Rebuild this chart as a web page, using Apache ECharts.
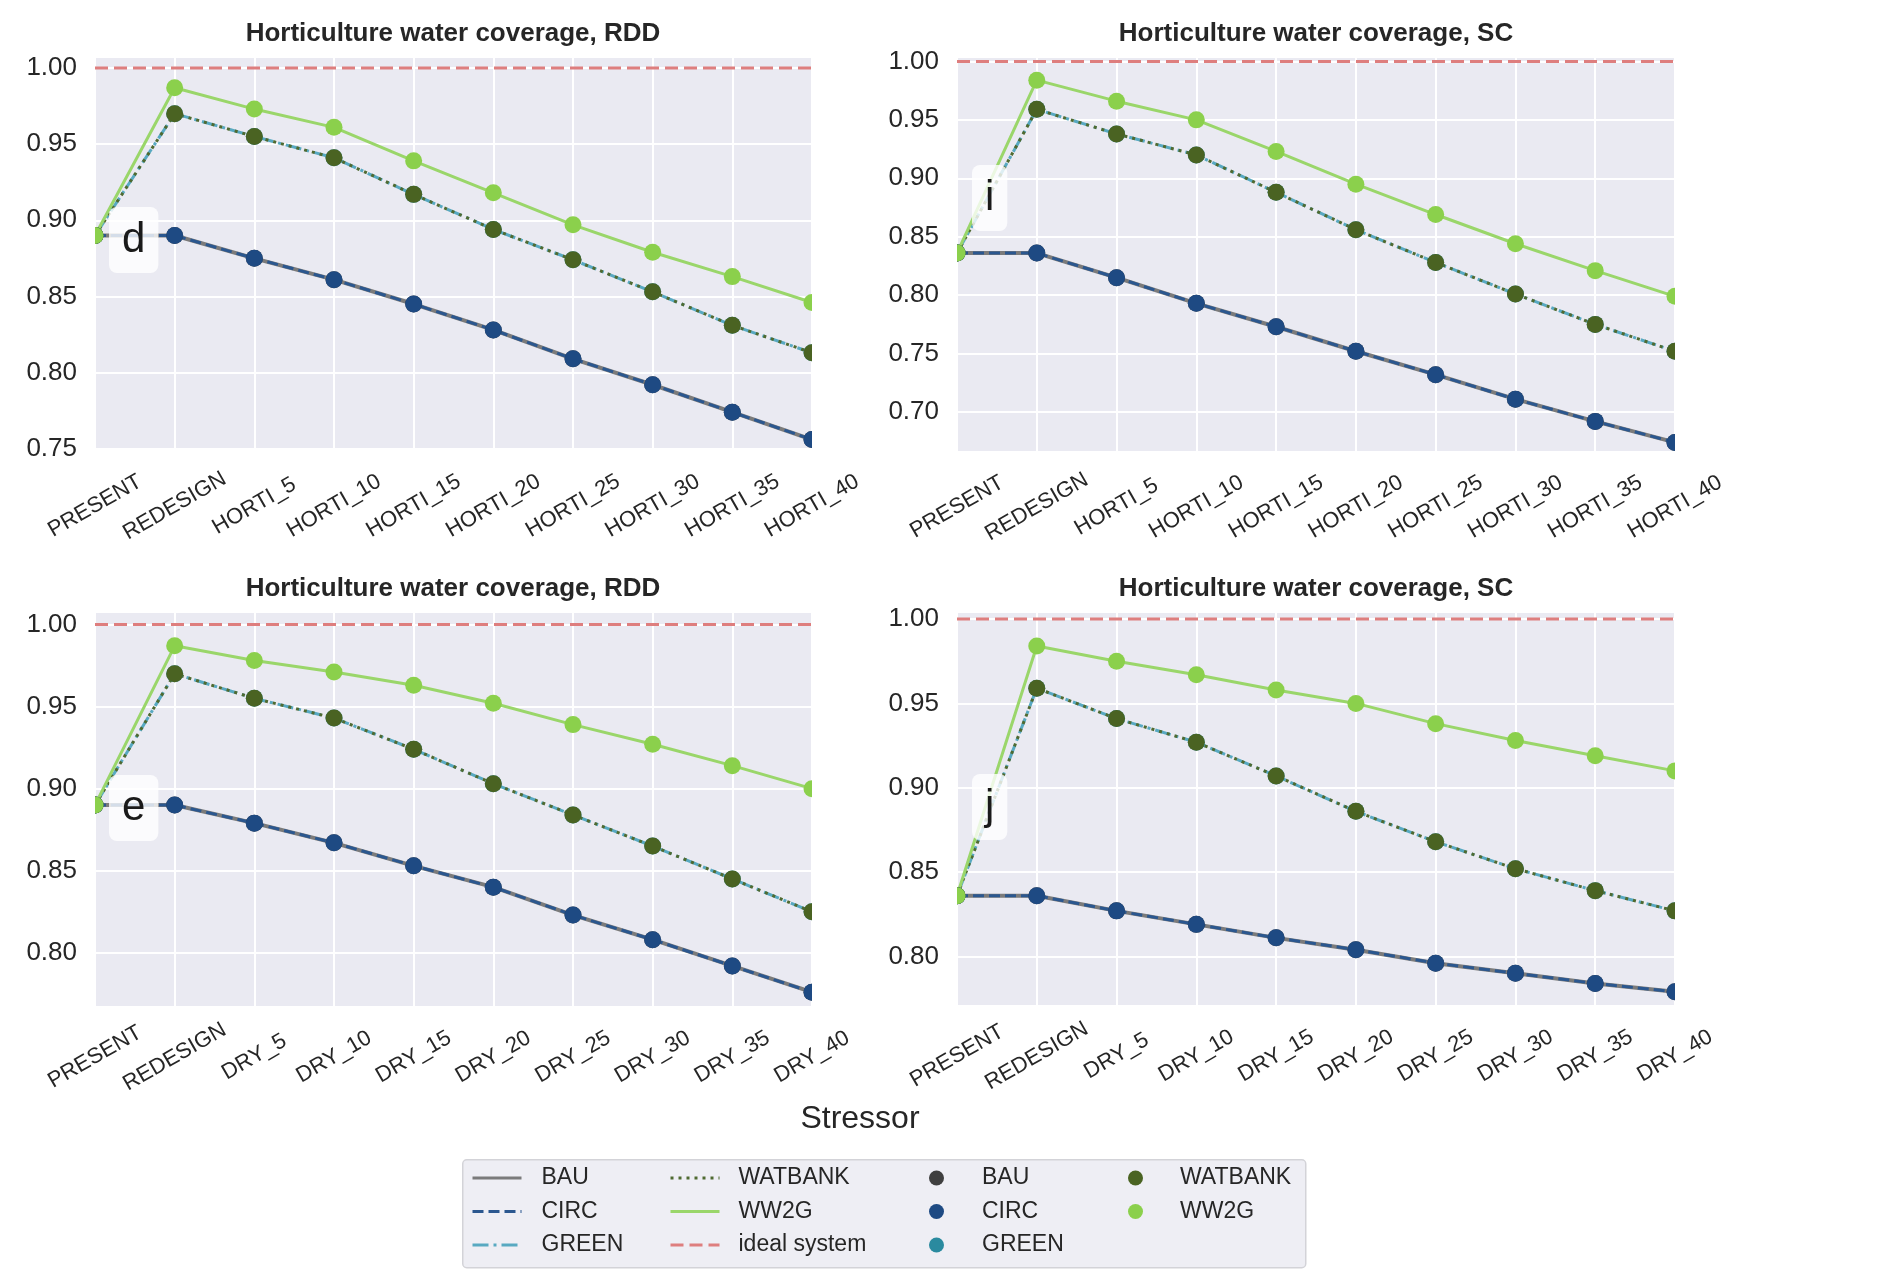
<!DOCTYPE html>
<html>
<head>
<meta charset="utf-8">
<script src="https://cdn.jsdelivr.net/npm/echarts@6/dist/echarts.min.js"></script>
<style>
  html, body { margin: 0; padding: 0; background: #ffffff; }
  #chart { width: 1879px; height: 1286px; }
</style>
</head>
<body>
<div id="chart"></div>
<script>
// ---- categories ----
const hortiCategories = ['PRESENT', 'REDESIGN', 'HORTI_5', 'HORTI_10', 'HORTI_15', 'HORTI_20', 'HORTI_25', 'HORTI_30', 'HORTI_35', 'HORTI_40'];
const dryCategories = ['PRESENT', 'REDESIGN', 'DRY_5', 'DRY_10', 'DRY_15', 'DRY_20', 'DRY_25', 'DRY_30', 'DRY_35', 'DRY_40'];

// ---- ideal system reference ----
const idealValues = [1, 1, 1, 1, 1, 1, 1, 1, 1, 1];

// ---- panel d: RDD, horticulture stressor ----
const rddHortiBAU     = [0.890, 0.890, 0.875, 0.861, 0.845, 0.828, 0.809, 0.792, 0.774, 0.756];
const rddHortiCIRC    = [0.890, 0.890, 0.875, 0.861, 0.845, 0.828, 0.809, 0.792, 0.774, 0.756];
const rddHortiGREEN   = [0.890, 0.970, 0.955, 0.941, 0.917, 0.894, 0.874, 0.853, 0.831, 0.813];
const rddHortiWATBANK = [0.890, 0.970, 0.955, 0.941, 0.917, 0.894, 0.874, 0.853, 0.831, 0.813];
const rddHortiWW2G    = [0.890, 0.987, 0.973, 0.961, 0.939, 0.918, 0.897, 0.879, 0.863, 0.846];

// ---- panel i: SC, horticulture stressor ----
const scHortiBAU     = [0.836, 0.836, 0.815, 0.793, 0.773, 0.752, 0.732, 0.711, 0.692, 0.674];
const scHortiCIRC    = [0.836, 0.836, 0.815, 0.793, 0.773, 0.752, 0.732, 0.711, 0.692, 0.674];
const scHortiGREEN   = [0.836, 0.959, 0.938, 0.920, 0.888, 0.856, 0.828, 0.801, 0.775, 0.752];
const scHortiWATBANK = [0.836, 0.959, 0.938, 0.920, 0.888, 0.856, 0.828, 0.801, 0.775, 0.752];
const scHortiWW2G    = [0.836, 0.984, 0.966, 0.950, 0.923, 0.895, 0.869, 0.844, 0.821, 0.799];

// ---- panel e: RDD, drought stressor ----
const rddDryBAU     = [0.890, 0.890, 0.879, 0.867, 0.853, 0.840, 0.823, 0.808, 0.792, 0.776];
const rddDryCIRC    = [0.890, 0.890, 0.879, 0.867, 0.853, 0.840, 0.823, 0.808, 0.792, 0.776];
const rddDryGREEN   = [0.890, 0.970, 0.955, 0.943, 0.924, 0.903, 0.884, 0.865, 0.845, 0.825];
const rddDryWATBANK = [0.890, 0.970, 0.955, 0.943, 0.924, 0.903, 0.884, 0.865, 0.845, 0.825];
const rddDryWW2G    = [0.890, 0.987, 0.978, 0.971, 0.963, 0.952, 0.939, 0.927, 0.914, 0.900];

// ---- panel j: SC, drought stressor ----
const scDryBAU     = [0.836, 0.836, 0.827, 0.819, 0.811, 0.804, 0.796, 0.790, 0.784, 0.779];
const scDryCIRC    = [0.836, 0.836, 0.827, 0.819, 0.811, 0.804, 0.796, 0.790, 0.784, 0.779];
const scDryGREEN   = [0.836, 0.959, 0.941, 0.927, 0.907, 0.886, 0.868, 0.852, 0.839, 0.827];
const scDryWATBANK = [0.836, 0.959, 0.941, 0.927, 0.907, 0.886, 0.868, 0.852, 0.839, 0.827];
const scDryWW2G    = [0.836, 0.984, 0.975, 0.967, 0.958, 0.950, 0.938, 0.928, 0.919, 0.910];

const scenarioNames = ['BAU', 'CIRC', 'GREEN', 'WATBANK', 'WW2G'];
const panelTitles = ['Horticulture water coverage, RDD', 'Horticulture water coverage, SC',
                     'Horticulture water coverage, RDD', 'Horticulture water coverage, SC'];
const panelTags = ['d', 'i', 'e', 'j'];
const xLabelName = 'Stressor';

const panelData = [
  { cats: hortiCategories, series: [rddHortiBAU, rddHortiCIRC, rddHortiGREEN, rddHortiWATBANK, rddHortiWW2G] },
  { cats: hortiCategories, series: [scHortiBAU, scHortiCIRC, scHortiGREEN, scHortiWATBANK, scHortiWW2G] },
  { cats: dryCategories,   series: [rddDryBAU, rddDryCIRC, rddDryGREEN, rddDryWATBANK, rddDryWW2G] },
  { cats: dryCategories,   series: [scDryBAU, scDryCIRC, scDryGREEN, scDryWATBANK, scDryWW2G] }
];

// ---- layout (pixels) ----
const panelLayout = [
  { grid: { left: 95,  top: 57,  width: 717, height: 394 }, yMin: 0.7485, yMax: 1.0072, tag: { left: 109, top: 207 }, titleX: 453,  titleTop: 19,  labelMargin: 55 },
  { grid: { left: 957, top: 57,  width: 718, height: 395 }, yMin: 0.6658, yMax: 1.0038, tag: { left: 972, top: 165 }, titleX: 1316, titleTop: 19,  labelMargin: 55 },
  { grid: { left: 95,  top: 612, width: 717, height: 395 }, yMin: 0.7670, yMax: 1.0076, tag: { left: 109, top: 775 }, titleX: 453,  titleTop: 574, labelMargin: 50 },
  { grid: { left: 957, top: 612, width: 718, height: 394 }, yMin: 0.7706, yMax: 1.0042, tag: { left: 972, top: 774 }, titleX: 1316, titleTop: 574, labelMargin: 50 }
];

const FONT = "'Liberation Sans', Arial, Helvetica, sans-serif";
const TEXT = '#262626';
const PLOT_BG = '#eaeaf2';
const MARKER_SIZE = 17;

const lineStyles = {
  BAU:     { color: '#7b7b7b', width: 4, type: 'solid' },
  CIRC:    { color: '#2b578f', width: 3, type: [11, 5] },
  GREEN:   { color: '#58a9c1', width: 3, type: [16, 5, 3, 5] },
  WATBANK: { color: '#4f6a31', width: 3, type: [3, 5] },
  WW2G:    { color: '#9ad66a', width: 3, type: 'solid' }
};
const idealStyle = { color: '#de7e7e', width: 3, type: [13, 6] };
const markerColors = { BAU: '#3f3f3f', CIRC: '#1e4a83', GREEN: '#2a8a9f', WATBANK: '#4a6322', WW2G: '#8bd04c' };
const MARKER_SUFFIX = ' marker';

const grids = [], xAxes = [], yAxes = [], series = [], titles = [], masks = [];

panelLayout.forEach((lay, i) => {
  const pd = panelData[i];
  const g = lay.grid;
  grids.push(Object.assign({ show: true, backgroundColor: PLOT_BG, borderWidth: 0, containLabel: false, outerBoundsMode: 'none' }, g));
  xAxes.push({
    type: 'category', gridIndex: i, data: pd.cats, boundaryGap: false,
    axisLine: { show: false }, axisTick: { show: false },
    splitLine: { show: true, lineStyle: { color: '#ffffff', width: 2 } },
    axisLabel: {
      interval: 0, rotate: 30, align: 'center', verticalAlign: 'middle',
      margin: lay.labelMargin, fontSize: 22, color: TEXT, fontFamily: FONT, hideOverlap: false
    }
  });
  yAxes.push({
    type: 'value', gridIndex: i, min: lay.yMin, max: lay.yMax,
    minInterval: 0.05, maxInterval: 0.05,
    axisLine: { show: false }, axisTick: { show: false },
    splitLine: { show: true, lineStyle: { color: '#ffffff', width: 2 } },
    axisLabel: {
      margin: 18, fontSize: 26, color: TEXT, fontFamily: FONT,
      formatter: v => (Math.abs(v * 20 - Math.round(v * 20)) < 1e-6 ? v.toFixed(2) : '')
    }
  });

  // ideal system reference line
  series.push({
    type: 'line', name: 'ideal system', xAxisIndex: i, yAxisIndex: i,
    data: idealValues, symbol: 'none', lineStyle: idealStyle, itemStyle: { color: idealStyle.color },
    animation: false, z: 2, silent: true
  });
  // scenario lines
  scenarioNames.forEach((nm, k) => {
    series.push({
      type: 'line', name: nm, xAxisIndex: i, yAxisIndex: i,
      data: pd.series[k], symbol: 'none',
      lineStyle: lineStyles[nm], itemStyle: { color: lineStyles[nm].color },
      animation: false, z: 2, silent: true
    });
  });
  // scenario markers
  scenarioNames.forEach((nm, k) => {
    series.push({
      type: 'scatter', name: nm + MARKER_SUFFIX, xAxisIndex: i, yAxisIndex: i,
      data: pd.series[k], symbol: 'circle', symbolSize: MARKER_SIZE,
      itemStyle: { color: markerColors[nm], opacity: 1 },
      animation: false, z: 3, silent: true
    });
  });

  // white strips beside each plot so markers are cut at the plot edge
  const strip = Math.ceil(MARKER_SIZE / 2) + 2;
  masks.push({ type: 'rect', z: 20, silent: true, shape: { x: g.left - strip, y: g.top, width: strip, height: g.height }, style: { fill: '#ffffff' } });
  masks.push({ type: 'rect', z: 20, silent: true, shape: { x: g.left + g.width, y: g.top, width: strip, height: g.height }, style: { fill: '#ffffff' } });

  titles.push({
    text: panelTitles[i], left: lay.titleX, top: lay.titleTop, textAlign: 'center', padding: 0,
    textStyle: { fontSize: 26, fontWeight: 'bold', color: TEXT, fontFamily: FONT, lineHeight: 30 }
  });
  titles.push({
    text: panelTags[i], left: lay.tag.left, top: lay.tag.top, padding: [12, 13],
    backgroundColor: 'rgba(255,255,255,0.8)', borderRadius: 8,
    textStyle: { fontSize: 42, fontWeight: 'normal', color: '#1a1a1a', fontFamily: FONT, lineHeight: 42 }
  });
});

titles.push({
  text: xLabelName, left: 860, top: 1101, textAlign: 'center', padding: 0,
  textStyle: { fontSize: 32, fontWeight: 'normal', color: TEXT, fontFamily: FONT, lineHeight: 36 }
});

const legendText = pad => ({ fontSize: 23, lineHeight: 28, color: TEXT, fontFamily: FONT, padding: [0, 0, 0, pad] });
const legendCommon = { orient: 'vertical', padding: 0, itemGap: 5.5, selectedMode: false, top: 1164 };

const legends = [
  Object.assign({}, legendCommon, {
    data: ['BAU', 'CIRC', 'GREEN'], left: 471, itemWidth: 49, itemHeight: 14,
    lineStyle: { width: 3 }, itemStyle: { opacity: 0 }, textStyle: legendText(15)
  }),
  Object.assign({}, legendCommon, {
    data: ['WATBANK', 'WW2G', 'ideal system'], left: 669, itemWidth: 49, itemHeight: 14,
    lineStyle: { width: 3 }, itemStyle: { opacity: 0 }, textStyle: legendText(14)
  }),
  Object.assign({}, legendCommon, {
    data: ['BAU', 'CIRC', 'GREEN'].map(n => n + MARKER_SUFFIX), left: 929, itemWidth: 15, itemHeight: 15,
    icon: 'circle', formatter: n => n.replace(MARKER_SUFFIX, ''), textStyle: legendText(33)
  }),
  Object.assign({}, legendCommon, {
    data: ['WATBANK', 'WW2G'].map(n => n + MARKER_SUFFIX), left: 1128, itemWidth: 15, itemHeight: 15,
    icon: 'circle', formatter: n => n.replace(MARKER_SUFFIX, ''), textStyle: legendText(32)
  })
];

const chart = echarts.init(document.getElementById('chart'), null, { renderer: 'canvas' });
chart.setOption({
  backgroundColor: '#ffffff',
  animation: false,
  title: titles,
  grid: grids,
  xAxis: xAxes,
  yAxis: yAxes,
  legend: legends,
  graphic: [{
    type: 'rect', left: 462, top: 1159, z: -10,
    shape: { width: 843, height: 108, r: 4 },
    style: { fill: '#eeeef4', stroke: '#d3d3d8', lineWidth: 1.5 }
  }].concat(masks),
  series: series
});
</script>
</body>
</html>
